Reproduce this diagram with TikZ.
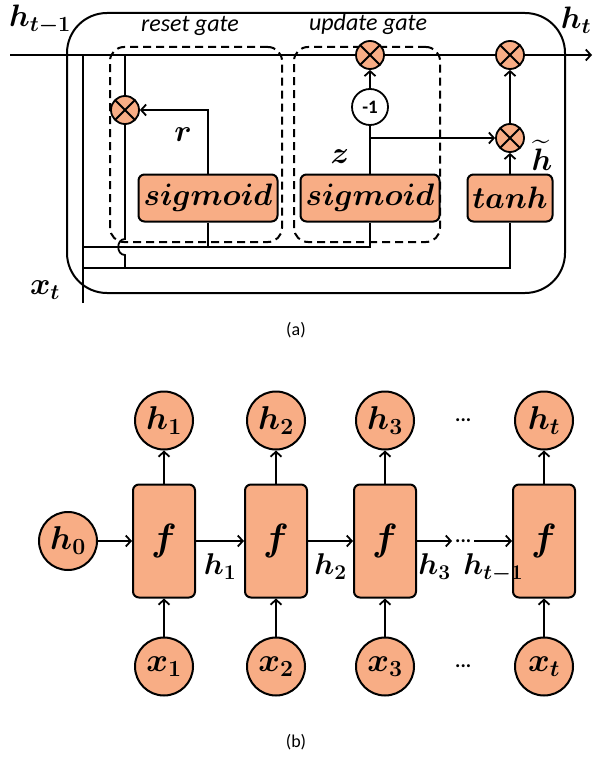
\RequirePackage{fix-cm}
\documentclass[tikz,border=0pt]{standalone}
\usepackage{amsmath,amssymb}
\usepackage{bm}
\usepackage[no-math]{fontspec}
\newfontfamily\labelfont{Carlito}
\usepackage{xcolor}
\usepackage{tikz}
\usetikzlibrary{arrows.meta,positioning,calc}

\definecolor{salmon}{RGB}{248,173,133}

\begin{document}
\begin{tikzpicture}[
    x=1pt, y=-1pt,
    wire/.style={line width=1.8pt},
    arrow/.style={-{Straight Barb[length=5pt,width=11pt]}, line width=1.8pt},
    cellbox/.style={rectangle, draw, fill=salmon, line width=2pt, rounded corners=6pt, minimum height=47pt, inner sep=0pt, font=\fontsize{31}{33}\selectfont},
    mult/.style={circle, draw, fill=salmon, line width=1.8pt, minimum size=28pt, inner sep=0pt,
        path picture={\draw[line width=1.8pt] (path picture bounding box.center) ++(-15pt,-15pt) -- ++(30pt,30pt)
            (path picture bounding box.center) ++(-15pt,15pt) -- ++(30pt,-30pt);}},
    negnode/.style={circle, draw, fill=white, line width=1.8pt, minimum size=36pt, inner sep=0pt, font=\labelfont\bfseries\fontsize{19}{20}\selectfont},
    gatebox/.style={draw, dash pattern=on 8pt off 5pt, line width=2pt, rounded corners=14pt, inner sep=0pt},
    gatelabel/.style={font=\labelfont\itshape\fontsize{24}{26}\selectfont},
    mathlabel/.style={font=\fontsize{31}{33}\selectfont, inner sep=0pt},
    caption/.style={font=\labelfont\fontsize{18}{20}\selectfont},
    fcell/.style={rectangle, draw, fill=salmon, line width=2pt, rounded corners=6pt, minimum width=62pt, minimum height=113pt, font=\fontsize{38}{40}\selectfont},
    statenode/.style={circle, draw, fill=salmon, line width=2pt, minimum size=58pt, inner sep=0pt, font=\fontsize{33}{35}\selectfont},
    steplabel/.style={font=\fontsize{30}{32}\selectfont, inner sep=0pt},
    dots/.style={font=\labelfont\bfseries\fontsize{20}{20}\selectfont, inner sep=3pt},
]
\useasboundingbox (0,0) rectangle (592,757);

% --- (a): GRU cell ---
\node[draw, line width=2pt, rounded corners=40pt, minimum width=498pt, minimum height=280pt] (cell) at (316,153) {};
\node[gatebox, minimum width=172pt, minimum height=195pt] (resetbox) at (196,144.5) {};
\node[gatebox, minimum width=146pt, minimum height=195pt] (updatebox) at (367,144.5) {};
\node[gatelabel] (resetlbl) at (190,26) {reset gate};
\node[gatelabel] (updatelbl) at (368,24) {update gate};

% --- Gates ---
\node[cellbox, minimum width=139pt] (sigr) at (208,198) {$\bm{sigmoid}$};
\node[cellbox, minimum width=139pt, right=21pt of sigr] (sigz) {$\bm{sigmoid}$};
\node[cellbox, minimum width=85pt, right=26pt of sigz] (tanhbox) {$\bm{tanh}$};

% --- Multipliers ---
\coordinate (hin) at (10,55);
\coordinate (hend) at (592,55);
\node[mult] (mulr) at (125,110) {};
\node[mult] (mulz) at (sigz.center |- hin) {};
\node[mult] (mulo) at (tanhbox.center |- hin) {};
\node[mult] (mulh) at (tanhbox.center |- 0,138) {};
\node[negnode] (neg) at (sigz.center |- 0,107) {-1};

% --- Labels ---
\node[mathlabel] (hprev) at (40,20) {$\bm{h_{t-1}}$};
\node[mathlabel] (hnext) at (576,20) {$\bm{h_t}$};
\node[mathlabel] (xin) at (45,290) {$\bm{x_t}$};
\node[mathlabel] (rlbl) at (183,135) {$\bm{r}$};
\node[mathlabel] (zlbl) at (340,157) {$\bm{z}$};
\node[mathlabel] (htlbl) at (542,155) {$\bm{\widetilde{h}}$};

% --- Wires ---
\coordinate (hr) at (125,55);
\coordinate (xtop) at (83,55);
\coordinate (xbot) at (83,303);
\coordinate (xa) at (83,247);
\coordinate (xb) at (83,268);
\coordinate (xjoin) at (125,268);
\coordinate (zsplit) at (sigz.center |- 0,138);
\draw[wire] (hin) -- (mulz.west);
\draw[wire] (mulz.east) -- (mulo.west);
\draw[arrow] (mulo.east) -- (hend);
\draw[wire] (xbot) -- (xtop);
\draw[wire] (hr) -- (mulr.north);
\draw[wire] (mulr.south) -- (125,239) .. controls (116,239) and (116,255) .. (125,255) -- (xjoin);
\draw[arrow] (sigr.north) |- (mulr.east);
\draw[wire] (xa) -| (sigz.south);
\draw[wire] (sigr.south) -- (sigr.south |- xa);
\draw[wire] (xb) -| (tanhbox.south);
\draw[wire] (sigz.north) -- (neg.south);
\draw[arrow] (neg.north) -- (mulz.south);
\draw[arrow] (zsplit) -- (mulh.west);
\draw[arrow] (tanhbox.north) -- (mulh.south);
\draw[arrow] (mulh.north) -- (mulo.south);

\node[caption] (capa) at (296,330) {(a)};

% --- (b): unrolled RNN ---
\node[fcell] (f1) at (164,541) {$\bm{f}$};
\node[fcell, right=48pt of f1] (f2) {$\bm{f}$};
\node[fcell, right=45pt of f2] (f3) {$\bm{f}$};
\node[fcell, right=95pt of f3] (f4) {$\bm{f}$};

\node[statenode, left=34pt of f1] (h0) {$\bm{h_0}$};
\node[statenode, above=33pt of f1] (h1) {$\bm{h_1}$};
\node[statenode, above=33pt of f2] (h2) {$\bm{h_2}$};
\node[statenode, above=33pt of f3] (h3) {$\bm{h_3}$};
\node[statenode, above=33pt of f4] (ht) {$\bm{h_t}$};
\node[statenode, below=38pt of f1] (x1) {$\bm{x_1}$};
\node[statenode, below=38pt of f2] (x2) {$\bm{x_2}$};
\node[statenode, below=38pt of f3] (x3) {$\bm{x_3}$};
\node[statenode, below=38pt of f4] (xt) {$\bm{x_t}$};

\node[dots, right=35pt of f3] (dmid) {...};
\node[dots] (dtop) at (dmid |- h3) {...};
\node[dots] (dbot) at (dmid |- x3) {...};

% --- Arrows ---
\draw[arrow] (h0) -- (f1);
\draw[arrow] (f1) -- node[steplabel, below=12pt] {$\bm{h_1}$} (f2);
\draw[arrow] (f2) -- node[steplabel, below=12pt] {$\bm{h_2}$} (f3);
\draw[arrow] (f3) -- node[steplabel, below=12pt] {$\bm{h_3}$} (dmid);
\draw[arrow] (dmid) -- node[steplabel, below=12pt] {$\bm{h_{t-1}}$} (f4);
\foreach \i/\j in {1/1,2/2,3/3,4/t} {
    \draw[arrow] (f\i) -- (h\j);
    \draw[arrow] (x\j) -- (f\i);
}

\node[caption] (capb) at (296,742) {(b)};

\end{tikzpicture}
\end{document}
